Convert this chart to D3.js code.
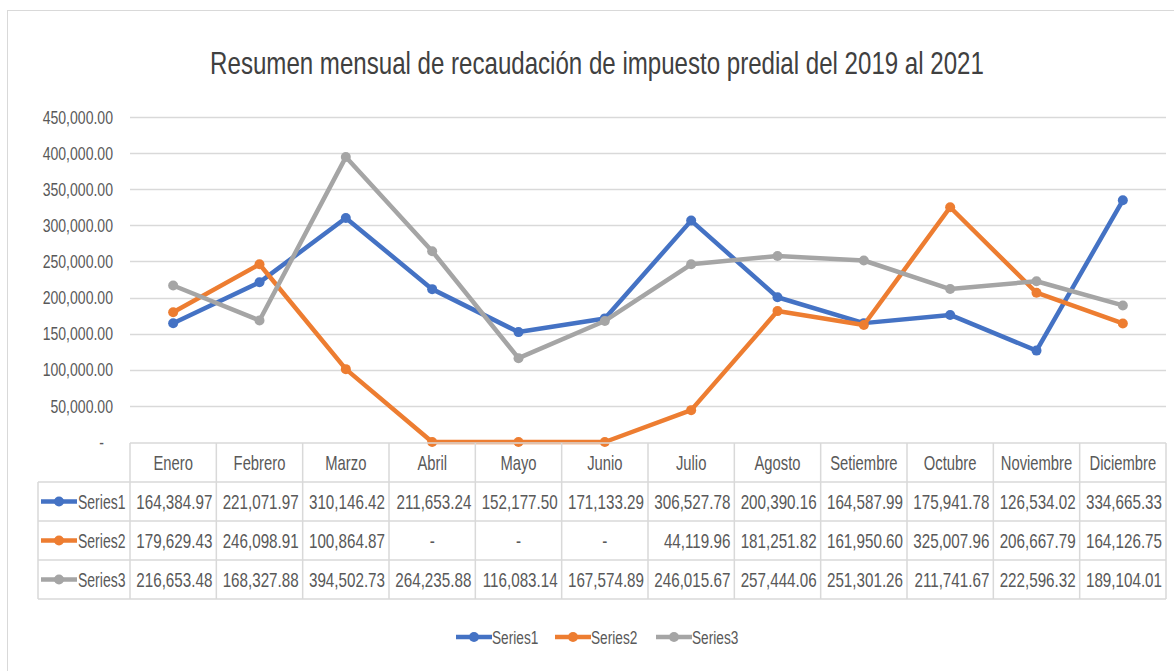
<!DOCTYPE html>
<html>
<head>
<meta charset="utf-8">
<script src="https://cdn.jsdelivr.net/npm/d3@7"></script>
<style>
  body { margin: 0; background: #fff; }
  text { font-family: "Liberation Sans", Arial, sans-serif; fill: #595959; }
</style>
</head>
<body>
<svg width="1174" height="671"></svg>
<script>
var months = ["Enero", "Febrero", "Marzo", "Abril", "Mayo", "Junio", "Julio", "Agosto", "Setiembre", "Octubre", "Noviembre", "Diciembre"];
var seriesNames = ["Series1", "Series2", "Series3"];
var series1 = [164384.97, 221071.97, 310146.42, 211653.24, 152177.50, 171133.29, 306527.78, 200390.16, 164587.99, 175941.78, 126534.02, 334665.33];
var series2 = [179629.43, 246098.91, 100864.87, 0, 0, 0, 44119.96, 181251.82, 161950.60, 325007.96, 206667.79, 164126.75];
var series3 = [216653.48, 168327.88, 394502.73, 264235.88, 116083.14, 167574.89, 246015.67, 257444.06, 251301.26, 211741.67, 222596.32, 189104.01];
var yTicks = [0, 50000, 100000, 150000, 200000, 250000, 300000, 350000, 400000, 450000];
var colors = ["#4472C4", "#ED7D31", "#A5A5A5"];
var title = "Resumen mensual de recaudación de impuesto predial del 2019 al 2021";

var allSeries = [series1, series2, series3];

var svg = d3.select("svg");

// narrow text: the original font is a condensed one, squeeze it horizontally
function ntext(g, x, y, str, size, sx, anchor) {
    return g.append("text")
        .attr("transform", "translate(" + x + "," + y + ") scale(" + sx + ",1)")
        .attr("dy", "0.35em")
        .attr("text-anchor", anchor || "start")
        .style("font-size", size + "px")
        .text(str);
}

// chart area border
svg.append("rect")
    .attr("x", 7.5).attr("y", 10.5)
    .attr("width", 1180).attr("height", 680)
    .attr("fill", "#fff")
    .attr("stroke", "#d9d9d9");

// title, squeezed to the width it has in the original
var t = svg.append("text")
    .attr("text-anchor", "middle")
    .style("font-size", "32px")
    .style("fill", "#404040")
    .text(title);
var tw = t.node().getComputedTextLength();
t.attr("transform", "translate(597,74) scale(" + (774 / tw) + ",1)");

var x = d3.scaleBand().domain(months).range([130, 1166]);
var y = d3.scaleLinear().domain([0, 450000]).range([442, 117]);

var fmt = d3.format(",.2f");

// gridlines
svg.append("g").selectAll("line")
    .data(yTicks.slice(1))
    .enter().append("line")
    .attr("x1", 130).attr("x2", 1166)
    .attr("y1", function(d) { return Math.round(y(d)) + 0.5; })
    .attr("y2", function(d) { return Math.round(y(d)) + 0.5; })
    .attr("stroke", "#d9d9d9")
    .attr("stroke-width", 1.5);

// y labels
var yLab = svg.append("g");
yTicks.forEach(function(d) {
    ntext(yLab, d === 0 ? 104 : 113, y(d), d === 0 ? "-" : fmt(d), 19, 0.74, "end");
});

// lines + markers
var line = d3.line()
    .x(function(d, i) { return x(months[i]) + x.bandwidth() / 2; })
    .y(function(d) { return y(d); });

allSeries.forEach(function(s, k) {
    svg.append("path")
        .datum(s)
        .attr("d", line)
        .attr("fill", "none")
        .attr("stroke", colors[k])
        .attr("stroke-width", 4.5)
        .attr("stroke-linejoin", "round")
        .attr("stroke-linecap", "round");
    svg.append("g").selectAll("circle")
        .data(s)
        .enter().append("circle")
        .attr("cx", function(d, i) { return x(months[i]) + x.bandwidth() / 2; })
        .attr("cy", function(d) { return y(d); })
        .attr("r", 5)
        .attr("fill", colors[k]);
});

// data table
var rowTop = [443, 482, 521, 560];
var rowH = 39;
var tbl = svg.append("g").attr("stroke", "#d9d9d9").attr("stroke-width", 1.5).attr("fill", "none");
tbl.append("line").attr("x1", 130).attr("x2", 1166).attr("y1", 443).attr("y2", 443);
rowTop.slice(1).concat([599]).forEach(function(r) {
    tbl.append("line").attr("x1", 38).attr("x2", 1166).attr("y1", r).attr("y2", r);
});
tbl.append("line").attr("x1", 38).attr("x2", 38).attr("y1", 482).attr("y2", 599);
months.forEach(function(m) {
    tbl.append("line").attr("x1", x(m)).attr("x2", x(m)).attr("y1", 443).attr("y2", 599);
});
tbl.append("line").attr("x1", 1166).attr("x2", 1166).attr("y1", 443).attr("y2", 599);

var head = svg.append("g");
months.forEach(function(m) {
    ntext(head, x(m) + x.bandwidth() / 2, 443 + rowH / 2, m, 20, 0.74, "middle");
});

function legendKey(g, cx, cy, color) {
    g.append("line")
        .attr("x1", cx - 18).attr("x2", cx + 18)
        .attr("y1", cy).attr("y2", cy)
        .attr("stroke", color).attr("stroke-width", 4.5);
    g.append("circle")
        .attr("cx", cx).attr("cy", cy).attr("r", 5)
        .attr("fill", color);
}

allSeries.forEach(function(s, k) {
    var cy = rowTop[k + 1] + rowH / 2;
    var row = svg.append("g");
    legendKey(row, 59, cy, colors[k]);
    ntext(row, 78, cy, seriesNames[k], 20, 0.7);
    s.forEach(function(d, i) {
        if (d === 0) ntext(row, x(months[i]) + x.bandwidth() / 2, cy, "-", 20, 0.76, "middle");
        else ntext(row, x(months[i]) + x.bandwidth() - 4, cy, fmt(d), 20, 0.76, "end");
    });
});

// legend
var legend = svg.append("g");
var legX = [474, 573, 674];
seriesNames.forEach(function(n, k) {
    legendKey(legend, legX[k], 637, colors[k]);
    ntext(legend, legX[k] + 18, 637, n, 19, 0.72);
});
</script>
</body>
</html>
